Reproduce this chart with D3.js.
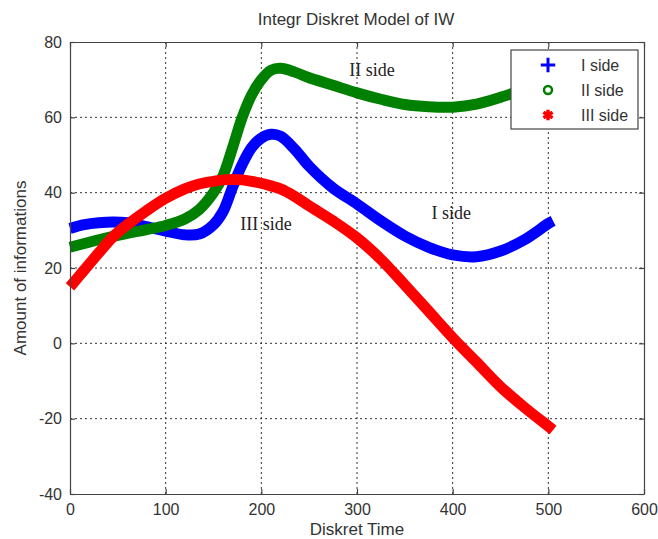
<!DOCTYPE html>
<html>
<head>
<meta charset="utf-8">
<script src="https://cdn.jsdelivr.net/npm/d3@7"></script>
<style>
    body { margin: 0; background: #fff; }
    text { font-family: Arial, "Liberation Sans", sans-serif; }
</style>
</head>
<body>
<div id="container"></div>
<script>
const title = 'Integr Diskret Model of IW'
const xLabel = 'Diskret Time'
const yLabel = 'Amount of informations'
const xTicks = [0, 100, 200, 300, 400, 500, 600]
const yTicks = [-40, -20, 0, 20, 40, 60, 80]
const seriesNames = ['I side', 'II side', 'III side']

// time steps shared by the three series
const timeSteps = [0, 15, 30, 45, 60, 80, 100, 120, 135, 150, 160, 170, 180, 190, 200, 210, 220, 235, 250, 275, 300, 325, 350, 375, 400, 425, 450, 475, 500, 505]
const sideI = [30.5, 31.5, 32, 32.2, 32, 31, 29.8, 28.8, 29, 31.5, 35, 41.5, 47.5, 52, 54.5, 55.5, 55, 51.5, 47, 41.2, 37, 32.5, 28.5, 25.5, 23.5, 23, 24.5, 27.5, 31.8, 32.5]
const sideII = [25.5, 26.5, 27.5, 28.4, 29.2, 30.2, 31.3, 33, 35.5, 40, 44.5, 52, 60, 66, 70, 72.5, 73, 72, 70.5, 68.5, 66.5, 64.8, 63.4, 62.8, 62.7, 63.5, 65.3, 67.5, 70, 70.5]
const sideIII = [15, 19.5, 24, 28.3, 31.5, 35.2, 38.5, 41, 42.3, 43, 43.4, 43.5, 43.4, 43, 42.5, 41.8, 41, 39, 36.5, 32.5, 28, 22.3, 15.5, 8.5, 1.5, -5, -11.5, -17, -22, -23]

// in-plot labels: [text, time, value]
const annotations = [['II side', 292, 71], ['III side', 178, 30], ['I side', 378, 33]]

const colors = ['#0000ff', '#008000', '#ff0000']

const width = 658
const height = 539
const margin = { top: 42, right: 14, bottom: 45, left: 70 }

const svg = d3.select('#container').append('svg')
    .attr('width', width).attr('height', height)

const xScale = d3.scaleLinear()
    .domain([0, 600])
    .range([margin.left, width - margin.right])

const yScale = d3.scaleLinear()
    .domain([-40, 80])
    .range([height - margin.bottom, margin.top])

// grid
const grid = svg.append('g')
grid.selectAll('.gx').data(xTicks.slice(1, -1)).enter().append('line')
    .attr('x1', d => xScale(d)).attr('x2', d => xScale(d))
    .attr('y1', yScale(-40)).attr('y2', yScale(80))
    .attr('stroke', '#333').attr('stroke-dasharray', '2,3')
grid.selectAll('.gy').data(yTicks.slice(1, -1)).enter().append('line')
    .attr('y1', d => yScale(d)).attr('y2', d => yScale(d))
    .attr('x1', xScale(0)).attr('x2', xScale(600))
    .attr('stroke', '#333').attr('stroke-dasharray', '2,3')

// curves
const series = [sideI, sideII, sideIII]
const line = d3.line()
    .x((d, i) => xScale(timeSteps[i]))
    .y(d => yScale(d))
    .curve(d3.curveCatmullRom.alpha(0.5))

svg.selectAll('.curve').data(series).enter().append('path')
    .attr('class', 'curve')
    .attr('d', d => line(d))
    .attr('fill', 'none')
    .attr('stroke', (d, i) => colors[i])
    .attr('stroke-width', 11)

// annotations
svg.selectAll('.note').data(annotations).enter().append('text')
    .attr('x', d => xScale(d[1]))
    .attr('y', d => yScale(d[2]))
    .style('font-family', '"Liberation Serif", "Times New Roman", serif')
    .style('font-size', '18px')
    .attr('fill', '#222')
    .text(d => d[0])

// axes, ticks inward like matlab
const xAxis = d3.axisBottom(xScale).tickValues(xTicks).tickSizeInner(-5).tickSizeOuter(0).tickPadding(10)
svg.append('g')
    .attr('id', 'x-axis')
    .attr('transform', `translate(0, ${yScale(-40)})`)
    .call(xAxis)

const yAxis = d3.axisLeft(yScale).tickValues(yTicks).tickFormat(d => String(d))
    .tickSizeInner(-5).tickSizeOuter(0).tickPadding(8)
svg.append('g')
    .attr('id', 'y-axis')
    .attr('transform', `translate(${xScale(0)}, 0)`)
    .call(yAxis)

svg.append('g')
    .attr('transform', `translate(0, ${yScale(80)})`)
    .call(d3.axisTop(xScale).tickValues(xTicks).tickSizeInner(-5).tickSizeOuter(0).tickFormat(''))
svg.append('g')
    .attr('transform', `translate(${xScale(600)}, 0)`)
    .call(d3.axisRight(yScale).tickValues(yTicks).tickSizeInner(-5).tickSizeOuter(0).tickFormat(''))

svg.selectAll('.domain, .tick line').attr('stroke', '#444').attr('stroke-width', 1.2)
svg.selectAll('.tick text').attr('fill', '#333').style('font-size', '16px')

// titles
svg.append('text')
    .attr('x', 356).attr('y', 25)
    .attr('text-anchor', 'middle')
    .style('font-size', '17px').attr('fill', '#333')
    .text(title)

svg.append('text')
    .attr('x', xScale(300)).attr('y', 535)
    .attr('text-anchor', 'middle')
    .style('font-size', '17px').attr('fill', '#333')
    .text(xLabel)

svg.append('text')
    .attr('transform', `translate(26, ${yScale(20)}) rotate(-90)`)
    .attr('text-anchor', 'middle')
    .style('font-size', '17px').attr('fill', '#333')
    .text(yLabel)

// legend
const legend = svg.append('g').attr('transform', 'translate(511, 50)')
legend.append('rect')
    .attr('width', 127).attr('height', 79)
    .attr('fill', '#fff').attr('stroke', '#444').attr('stroke-width', 1.2)

const symbols = [d3.symbolPlus, d3.symbolCircle, d3.symbolAsterisk]
const symbolSizes = [70, 50, 80]
const symbolWidths = [3, 2.5, 3.5]
seriesNames.forEach((name, i) => {
    const row = legend.append('g').attr('transform', `translate(0, ${15 + i * 25})`)
    row.append('path')
        .attr('transform', 'translate(37, 0)')
        .attr('d', d3.symbol(symbols[i], symbolSizes[i])())
        .attr('fill', 'none')
        .attr('stroke', colors[i])
        .attr('stroke-width', symbolWidths[i])
    row.append('text')
        .attr('x', 70).attr('y', 6)
        .style('font-size', '16px').attr('fill', '#333')
        .text(name)
})
</script>
</body>
</html>
